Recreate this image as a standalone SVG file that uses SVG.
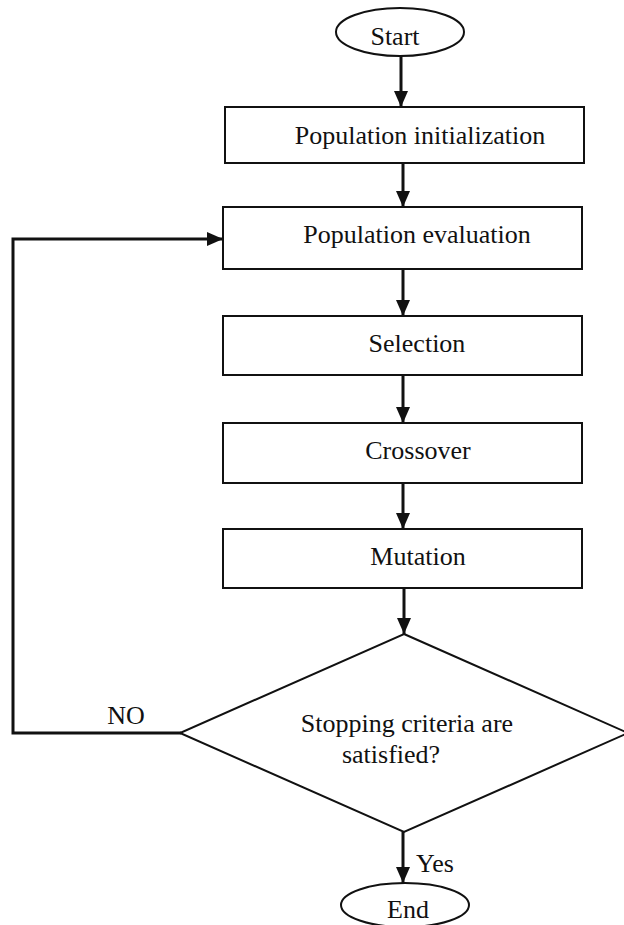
<svg xmlns="http://www.w3.org/2000/svg" width="624" height="925" viewBox="0 0 624 925">
  <style>
    .box { fill: #ffffff; stroke: #111111; stroke-width: 2; }
    .lbl { font-family: "Liberation Serif", "Times New Roman", serif; font-size: 26px; fill: #111111; text-anchor: middle; }
    .edge { fill: none; stroke: #111111; stroke-width: 3; }
  </style>
  <defs>
    <marker id="arrow" markerUnits="userSpaceOnUse" markerWidth="16" markerHeight="16" refX="16" refY="8" orient="auto">
      <path d="M0,1 L16,8 L0,15 Z" fill="#111111"/>
    </marker>
  </defs>
  <rect width="624" height="925" fill="#ffffff"/>

  <g id="connectors">
    <line class="edge" x1="401" y1="56" x2="401" y2="107" marker-end="url(#arrow)"/>
    <line class="edge" x1="403" y1="163" x2="403" y2="207" marker-end="url(#arrow)"/>
    <line class="edge" x1="403" y1="269" x2="403" y2="316" marker-end="url(#arrow)"/>
    <line class="edge" x1="403" y1="375" x2="403" y2="423" marker-end="url(#arrow)"/>
    <line class="edge" x1="403" y1="483" x2="403" y2="529" marker-end="url(#arrow)"/>
    <line class="edge" x1="404" y1="588" x2="404" y2="634" marker-end="url(#arrow)"/>
    <line class="edge" x1="403" y1="832" x2="403" y2="883" marker-end="url(#arrow)"/>
    <polyline class="edge" points="181,733 13,733 13,239 223,239" marker-end="url(#arrow)"/>
    <text class="lbl" x="126" y="724">NO</text>
    <text class="lbl" x="416" y="872" style="text-anchor:start">Yes</text>
  </g>

  <g id="start">
    <ellipse class="box" cx="400" cy="32" rx="64" ry="24"/>
    <text class="lbl" x="395" y="45">Start</text>
  </g>
  <g id="init">
    <rect class="box" x="225" y="107" width="359" height="56"/>
    <text class="lbl" x="420" y="144">Population initialization</text>
  </g>
  <g id="evaluation">
    <rect class="box" x="223" y="207" width="359" height="62"/>
    <text class="lbl" x="417" y="243">Population evaluation</text>
  </g>
  <g id="selection">
    <rect class="box" x="223" y="316" width="359" height="59"/>
    <text class="lbl" x="417" y="352">Selection</text>
  </g>
  <g id="crossover">
    <rect class="box" x="223" y="423" width="359" height="60"/>
    <text class="lbl" x="418" y="459">Crossover</text>
  </g>
  <g id="mutation">
    <rect class="box" x="223" y="529" width="359" height="59"/>
    <text class="lbl" x="418" y="565">Mutation</text>
  </g>
  <g id="decision">
    <polygon class="box" points="404,634 628,733 404,832 180,733"/>
    <text class="lbl" x="407" y="732">Stopping criteria are</text>
    <text class="lbl" x="391" y="763">satisfied?</text>
  </g>
  <g id="end">
    <ellipse class="box" cx="405" cy="905" rx="64" ry="22"/>
    <text class="lbl" x="408" y="918">End</text>
  </g>
</svg>
